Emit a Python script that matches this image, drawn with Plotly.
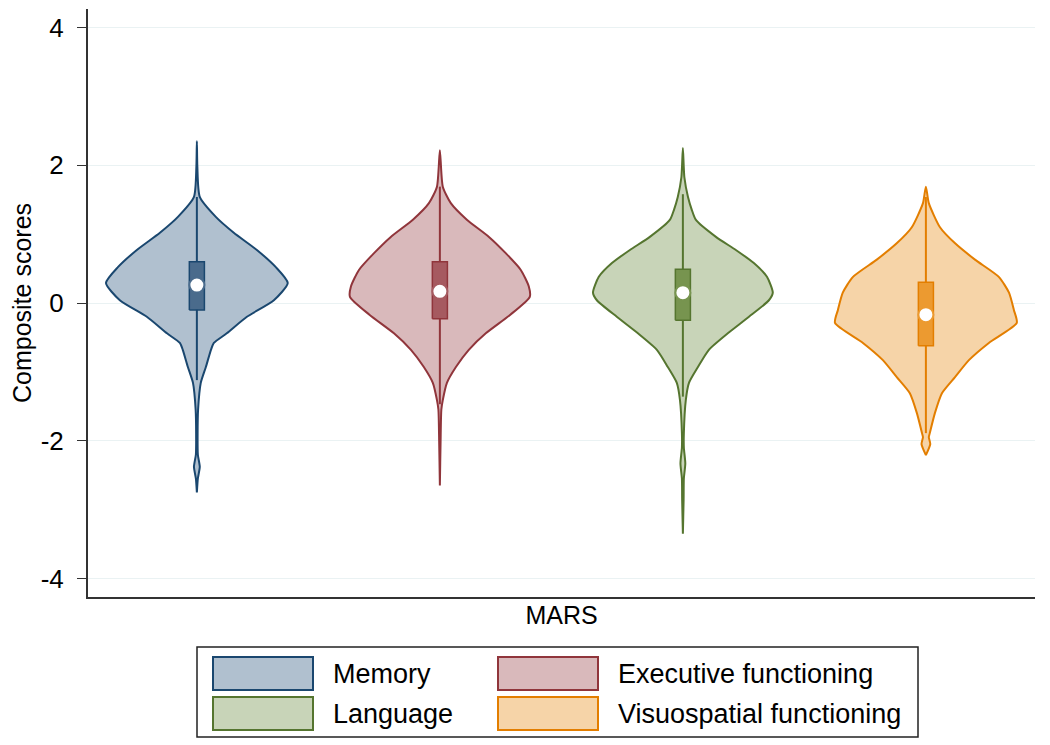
"""Violin plots of MARS composite scores by cognitive domain."""

import plotly.graph_objects as go

# groups and their positions on the (hidden) x axis
domains = ["Memory", "Executive functioning", "Language", "Visuospatial functioning"]
positions = [1, 2, 3, 4]

# violin outlines: score levels and half widths (density, in x-axis units)
memory_y = [2.35, 1.98, 1.54, 1.25, 1.02, 0.77, 0.52, 0.29, 0.04, -0.2, -0.44, -0.58, -0.68,
            -0.93, -1.16, -1.55, -1.9, -2.2, -2.38, -2.55, -2.75]
memory_w = [0.0, 0.002, 0.012, 0.078, 0.152, 0.247, 0.325, 0.374, 0.317, 0.206, 0.123, 0.07,
            0.058, 0.037, 0.016, 0.005, 0.003, 0.004, 0.012, 0.004, 0.0]

exec_y = [2.22, 1.69, 1.45, 1.21, 0.96, 0.72, 0.48, 0.24, 0.09, -0.17, -0.44, -0.68, -0.93,
          -1.16, -1.41, -1.55, -2.0, -2.65]
exec_w = [0.0, 0.012, 0.045, 0.111, 0.202, 0.272, 0.333, 0.366, 0.37, 0.29, 0.189, 0.119,
          0.066, 0.029, 0.012, 0.006, 0.003, 0.0]

language_y = [2.25, 1.83, 1.54, 1.35, 1.21, 0.96, 0.77, 0.58, 0.38, 0.15, 0.04, -0.2, -0.44,
              -0.68, -0.93, -1.16, -1.41, -1.89, -2.1, -2.33, -2.55, -2.86, -3.35]
language_w = [0.0, 0.006, 0.021, 0.037, 0.053, 0.136, 0.218, 0.292, 0.346, 0.37, 0.354,
              0.272, 0.185, 0.107, 0.062, 0.025, 0.012, 0.004, 0.004, 0.01, 0.004, 0.003, 0.0]

visuo_y = [1.69, 1.45, 1.1, 0.87, 0.63, 0.38, 0.15, -0.1, -0.29, -0.58, -0.83, -1.08, -1.31,
           -1.6, -1.89, -1.95, -2.05, -2.21]
visuo_w = [0.0, 0.012, 0.058, 0.119, 0.202, 0.3, 0.342, 0.362, 0.374, 0.259, 0.177, 0.119,
           0.066, 0.037, 0.016, 0.012, 0.018, 0.0]

# box summaries
q1 = [-0.1, -0.23, -0.25, -0.62]
medians = [0.26, 0.17, 0.15, -0.17]
q3 = [0.6, 0.6, 0.49, 0.3]
lower_adj = [-1.12, -1.47, -1.36, -1.89]
upper_adj = [1.54, 1.69, 1.58, 1.54]

y_ticks = [-4, -2, 0, 2, 4]
y_tick_text = ["-4", "-2", "0", "2", "4"]

line_colors = ["#1a476f", "#90353b", "#55752f", "#e37e00"]
fill_colors = ["#b0c0cf", "#d9b9bb", "#c8d4b8", "#f6d4a8"]
box_colors = ["#4a6b8c", "#a65a60", "#77944f", "#ec9a30"]

outlines = [(memory_y, memory_w), (exec_y, exec_w), (language_y, language_w), (visuo_y, visuo_w)]
box_half = 0.031

fig = go.Figure()

for i, (ys, ws) in enumerate(outlines):
    pos = positions[i]
    xs = [pos - w for w in ws] + [pos + w for w in reversed(ws)]
    yy = list(ys) + list(reversed(ys))
    fig.add_trace(
        go.Scatter(
            x=xs, y=yy, mode="lines", fill="toself", fillcolor=fill_colors[i],
            line={"color": line_colors[i], "width": 2, "shape": "spline", "smoothing": 0.6},
            name=domains[i], showlegend=False, hoverinfo="skip",
        )
    )
    # whisker (adjacent values)
    fig.add_trace(
        go.Scatter(
            x=[pos, pos], y=[lower_adj[i], upper_adj[i]], mode="lines",
            line={"color": line_colors[i], "width": 2}, showlegend=False, hoverinfo="skip",
        )
    )
    # interquartile box
    fig.add_trace(
        go.Scatter(
            x=[pos - box_half, pos + box_half, pos + box_half, pos - box_half, pos - box_half],
            y=[q1[i], q1[i], q3[i], q3[i], q1[i]], mode="lines", fill="toself",
            fillcolor=box_colors[i], line={"color": line_colors[i], "width": 1.5},
            showlegend=False, hoverinfo="skip",
        )
    )

fig.add_trace(
    go.Scatter(
        x=positions, y=medians, mode="markers", showlegend=False,
        marker={"color": "white", "size": 15, "line": {"color": box_colors, "width": 2}},
    )
)

# page offset of the figure (browser body margin) and plot area in page pixels
OFF = 8
W, H = 1050 - OFF, 745 - OFF
L, R, T, B = 88, 1035, 9, 597


def px(x):
    return (x - L) / (R - L)


def py(y):
    return (B - y) / (B - T)


shapes = [
    dict(type="rect", xref="paper", yref="paper", x0=px(197), x1=px(918), y0=py(737), y1=py(647),
         line={"color": "#222222", "width": 1.5}, fillcolor="white")
]
annotations = []
slots = [(213, 657), (498, 657), (213, 697), (498, 697)]
for i, (sx, sy) in enumerate(slots):
    shapes.append(
        dict(type="rect", xref="paper", yref="paper", x0=px(sx), x1=px(sx + 100),
             y0=py(sy + 33), y1=py(sy), line={"color": line_colors[i], "width": 2},
             fillcolor=fill_colors[i])
    )
    annotations.append(
        dict(text=domains[i], xref="paper", yref="paper", x=px(sx + 118), y=py(sy + 17),
             xanchor="left", yanchor="middle", showarrow=False,
             font={"size": 27, "color": "black"})
    )

fig.update_layout(
    width=W, height=H,
    margin={"l": L - OFF, "r": 1050 - R, "t": T - OFF, "b": 745 - B},
    paper_bgcolor="white", plot_bgcolor="white",
    font={"family": "Liberation Sans, Arial, sans-serif", "color": "black"},
    showlegend=False,
    shapes=shapes, annotations=annotations,
    xaxis={
        "range": [0.552, 4.449], "showticklabels": False, "ticks": "", "showgrid": False,
        "zeroline": False, "showline": True, "linecolor": "#333333", "linewidth": 2,
        "automargin": False,
        "title": {"text": "MARS", "font": {"size": 25}, "standoff": 8},
    },
    yaxis={
        "range": [-4.27, 4.27], "tickvals": y_ticks, "ticktext": y_tick_text,
        "tickfont": {"size": 26}, "ticks": "outside", "ticklen": 9, "tickcolor": "#333333",
        "ticklabelstandoff": 8, "automargin": False,
        "showline": True, "linecolor": "#333333", "linewidth": 2,
        "showgrid": True, "gridcolor": "#eaf2f3", "gridwidth": 1, "zeroline": False,
        "title": {"text": "Composite scores", "font": {"size": 25}, "standoff": 4},
    },
)

fig.write_html("out.html")
